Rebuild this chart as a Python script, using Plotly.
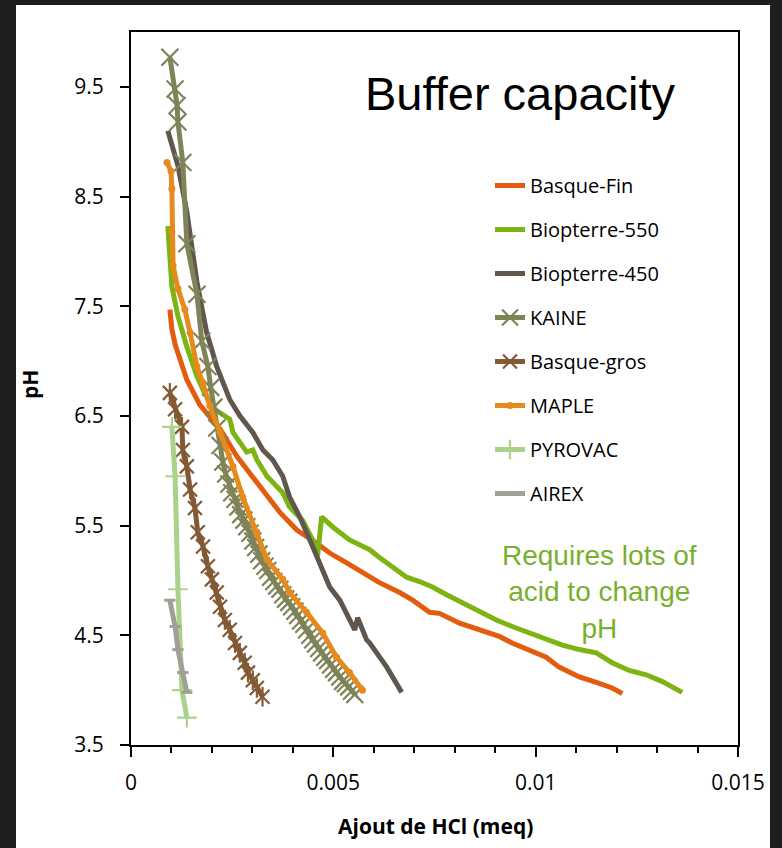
import plotly.graph_objects as go

# ---------------- data ----------------
basque_fin_x = [0.00096, 0.00101, 0.00109, 0.00121, 0.00138, 0.00170, 0.00195, 0.00220, 0.00262, 0.00301,
                0.00343, 0.00368, 0.00410, 0.00459, 0.00491, 0.00533, 0.00590, 0.00614, 0.00664, 0.00696,
                0.00738, 0.00762, 0.00812, 0.00861, 0.00910, 0.00942, 0.00984, 0.01026, 0.01058, 0.01083,
                0.01108, 0.01150, 0.01189, 0.01214]
basque_fin_y = [7.47, 7.29, 7.15, 7.02, 6.83, 6.60, 6.49, 6.38, 6.13, 5.95,
                5.74, 5.62, 5.46, 5.34, 5.25, 5.16, 5.03, 4.98, 4.89, 4.82,
                4.71, 4.70, 4.61, 4.55, 4.49, 4.43, 4.37, 4.30, 4.21, 4.16,
                4.12, 4.07, 4.02, 3.97]

biopterre550_x = [0.00091, 0.00096, 0.00101, 0.00116, 0.00138, 0.00163, 0.00183, 0.00207, 0.00244, 0.00252,
                  0.00286, 0.00301, 0.00311, 0.00336, 0.00360, 0.00375, 0.00392, 0.00424, 0.00449, 0.00461,
                  0.00471, 0.00498, 0.00540, 0.00590, 0.00614, 0.00681, 0.00713, 0.00745, 0.00780, 0.00829,
                  0.00861, 0.00903, 0.00942, 0.00984, 0.01026, 0.01066, 0.01108, 0.01150, 0.01189, 0.01231,
                  0.01273, 0.01312, 0.01362]
biopterre550_y = [8.23, 7.93, 7.68, 7.41, 7.13, 6.86, 6.70, 6.56, 6.47, 6.35,
                  6.17, 6.19, 6.10, 5.95, 5.86, 5.80, 5.67, 5.55, 5.37, 5.22,
                  5.58, 5.49, 5.37, 5.28, 5.21, 5.03, 4.99, 4.94, 4.87, 4.78,
                  4.71, 4.64, 4.58, 4.52, 4.46, 4.41, 4.37, 4.34, 4.25, 4.18,
                  4.14, 4.08, 3.98]

biopterre450_x = [0.00091, 0.00116, 0.00138, 0.00163, 0.00187, 0.00212, 0.00244, 0.00269, 0.00301, 0.00326,
                  0.00350, 0.00375, 0.00392, 0.00417, 0.00442, 0.00466, 0.00491, 0.00516, 0.00540, 0.00553,
                  0.00560, 0.00582, 0.00590, 0.00632, 0.00669]
biopterre450_y = [9.10, 8.78, 8.36, 7.72, 7.26, 6.95, 6.65, 6.50, 6.35, 6.19,
                  6.10, 5.95, 5.76, 5.58, 5.37, 5.16, 4.94, 4.82, 4.64, 4.55,
                  4.66, 4.46, 4.43, 4.21, 3.98]

kaine_x = [0.00096, 0.00109, 0.00114, 0.00116, 0.00128, 0.00138, 0.00163, 0.00175,
           0.00190, 0.00197, 0.00205, 0.00212, 0.00220, 0.00227, 0.00234, 0.00242, 0.00249, 0.00257,
           0.00264, 0.00271, 0.00279, 0.00286, 0.00294, 0.00301, 0.00308, 0.00316, 0.00323, 0.00331,
           0.00338, 0.00345, 0.00353, 0.00360, 0.00368, 0.00375, 0.00382, 0.00390, 0.00397, 0.00405,
           0.00412, 0.00419, 0.00427, 0.00434, 0.00442, 0.00449, 0.00456, 0.00464, 0.00471, 0.00479,
           0.00486, 0.00493, 0.00501, 0.00508, 0.00516, 0.00523, 0.00530, 0.00538, 0.00545, 0.00553]
kaine_y = [9.77, 9.48, 9.33, 9.18, 8.81, 8.07, 7.61, 7.18,
           6.95, 6.76, 6.58, 6.39, 6.23, 6.08, 5.97, 5.88, 5.80, 5.74,
           5.67, 5.60, 5.55, 5.49, 5.43, 5.36, 5.30, 5.24, 5.18, 5.13,
           5.09, 5.03, 4.99, 4.95, 4.92, 4.87, 4.83, 4.80, 4.76, 4.72,
           4.68, 4.63, 4.60, 4.55, 4.50, 4.46, 4.42, 4.38, 4.34, 4.30,
           4.27, 4.23, 4.19, 4.16, 4.12, 4.08, 4.06, 4.03, 3.99, 3.96]

basque_gros_x = [0.00096, 0.00109, 0.00126, 0.00128, 0.00138, 0.00146, 0.00158, 0.00165, 0.00178, 0.00190,
                 0.00200, 0.00212, 0.00220, 0.00232, 0.00244, 0.00257, 0.00269, 0.00281, 0.00289, 0.00301,
                 0.00311, 0.00325]
basque_gros_y = [6.71, 6.56, 6.40, 6.19, 6.04, 5.83, 5.66, 5.44, 5.31, 5.13,
                 5.01, 4.89, 4.76, 4.64, 4.55, 4.43, 4.34, 4.25, 4.16, 4.09,
                 4.02, 3.94]

maple_x = [0.00089, 0.00099, 0.00101, 0.00101, 0.00104, 0.00116, 0.00133, 0.00146, 0.00163, 0.00178,
           0.00195, 0.00220, 0.00252, 0.00276, 0.00311, 0.00336, 0.00375, 0.00392, 0.00434, 0.00474,
           0.00508, 0.00540, 0.00572]
maple_y = [8.81, 8.73, 8.57, 8.18, 7.87, 7.66, 7.47, 7.26, 6.95, 6.79,
           6.59, 6.35, 6.04, 5.76, 5.44, 5.19, 5.01, 4.89, 4.71, 4.52,
           4.30, 4.16, 4.00]

pyrovac_x = [0.00101, 0.00109, 0.00116, 0.00126, 0.00138]
pyrovac_y = [6.40, 5.95, 4.92, 4.00, 3.75]

airex_x = [0.00096, 0.00109, 0.00116, 0.00128, 0.00138]
airex_y = [4.82, 4.58, 4.37, 4.16, 3.98]

x_tick_vals = [0, 0.005, 0.01, 0.015]
x_tick_text = ["0", "0.005", "0.01", "0.015"]
y_tick_vals = [3.5, 4.5, 5.5, 6.5, 7.5, 8.5, 9.5]
y_tick_text = ["3.5", "4.5", "5.5", "6.5", "7.5", "8.5", "9.5"]

# ---------------- styling ----------------
FONT = "Open Sans"
LW = 5
BORDER = "#1e1e1e"

fig = go.Figure()

def add(name, xs, ys, color, mode="lines", marker=None, group=None, showlegend=True):
    fig.add_trace(go.Scatter(
        x=xs, y=ys, name=name, mode=mode,
        line=dict(color=color, width=LW),
        marker=marker if marker else dict(),
        legendgroup=group or name, showlegend=showlegend,
    ))

add("Basque-Fin", basque_fin_x, basque_fin_y, "#E35B0C")
add("Biopterre-550", biopterre550_x, biopterre550_y, "#7DB413")
add("Biopterre-450", biopterre450_x, biopterre450_y, "#5F574E")
add("KAINE", kaine_x, kaine_y, "#7F8358", mode="lines+markers",
    marker=dict(symbol="x-thin-open", size=17, color="#7F8358", line=dict(width=2.2, color="#7F8358")))
add("Basque-gros", basque_gros_x, basque_gros_y, "#825A34", mode="lines+markers",
    marker=dict(symbol="x-thin-open", size=14, color="#825A34", line=dict(width=2.2, color="#825A34")))
fig.add_trace(go.Scatter(
    x=basque_gros_x, y=basque_gros_y, mode="markers", legendgroup="Basque-gros", showlegend=False,
    marker=dict(symbol="line-ns-open", size=14, color="#825A34", line=dict(width=2.2, color="#825A34")),
    hoverinfo="skip"))
add("MAPLE", maple_x, maple_y, "#E68A1C", mode="lines+markers",
    marker=dict(symbol="circle", size=7, color="#E68A1C"))
add("PYROVAC", pyrovac_x, pyrovac_y, "#AAD28A", mode="lines+markers",
    marker=dict(symbol="cross-thin-open", size=14, color="#AAD28A", line=dict(width=2.2, color="#AAD28A")))
add("AIREX", airex_x, airex_y, "#A39E98", mode="lines+markers",
    marker=dict(symbol="line-ew-open", size=8, color="#A39E98", line=dict(width=3, color="#A39E98")))

W, H = 782, 848
L, R, T, B = 131, 44, 32, 103
pw, ph = W - L - R, H - T - B

def px(x):
    return (x - L) / pw

def py(y):
    return (H - B - y) / ph

fig.update_layout(
    width=W, height=H,
    margin=dict(l=L, r=R, t=T, b=B),
    paper_bgcolor=BORDER,
    plot_bgcolor="white",
    font=dict(family=FONT, color="black", size=21),
    showlegend=True,
    legend=dict(
        x=px(490), y=py(166), xanchor="left", yanchor="top",
        bgcolor="rgba(0,0,0,0)", font=dict(family=FONT, size=20, color="black"),
        tracegroupgap=15, itemclick=False,
    ),
    shapes=[dict(type="rect", xref="paper", yref="paper", layer="below",
                 x0=px(16), x1=px(770), y0=py(H + 2), y1=py(5),
                 fillcolor="white", line=dict(width=0))],
    annotations=[
        dict(text="Buffer capacity", xref="paper", yref="paper", x=px(520), y=py(93),
             xanchor="center", yanchor="middle",
             showarrow=False, font=dict(family="Liberation Sans", size=47, color="black")),
        dict(text="Requires lots of<br>acid to change<br>pH", xref="paper", yref="paper",
             x=px(599), y=py(592), xanchor="center", yanchor="middle",
             showarrow=False, align="center",
             font=dict(family="Liberation Sans", size=28, color="#78AF2C")),
        dict(text="<b>pH</b>", xref="paper", yref="paper", x=px(30), y=py(385),
             xanchor="center", yanchor="middle",
             showarrow=False, textangle=-90, font=dict(family=FONT, size=21, color="black")),
        dict(text="<b>Ajout de HCl (meq)</b>", xref="paper", yref="paper", x=px(435), y=py(826),
             xanchor="center", yanchor="middle",
             showarrow=False, font=dict(family=FONT, size=21, color="black")),
    ],
)

fig.update_xaxes(
    range=[0, 0.015], tickvals=x_tick_vals, ticktext=x_tick_text,
    showline=True, linecolor="black", linewidth=2, mirror=True,
    ticks="outside", ticklen=10, tickwidth=2, tickcolor="black",
    minor=dict(dtick=0.001, tick0=0, ticks="outside", ticklen=6, tickwidth=2, tickcolor="black"),
    showgrid=False, zeroline=False, ticklabelstandoff=8,
    tickfont=dict(family=FONT, size=21),
)
fig.update_yaxes(
    range=[3.5, 10], tickvals=y_tick_vals, ticktext=y_tick_text,
    showline=True, linecolor="black", linewidth=2, mirror=True,
    ticks="outside", ticklen=9, tickwidth=2, tickcolor="black",
    showgrid=False, zeroline=False, ticklabelstandoff=12,
    tickfont=dict(family=FONT, size=21),
)

fig.write_html(
    "out.html",
    config={"displayModeBar": False},
    post_script="document.body.style.margin='0';document.body.style.padding='0';"
                "document.body.style.background='" + BORDER + "';",
)
